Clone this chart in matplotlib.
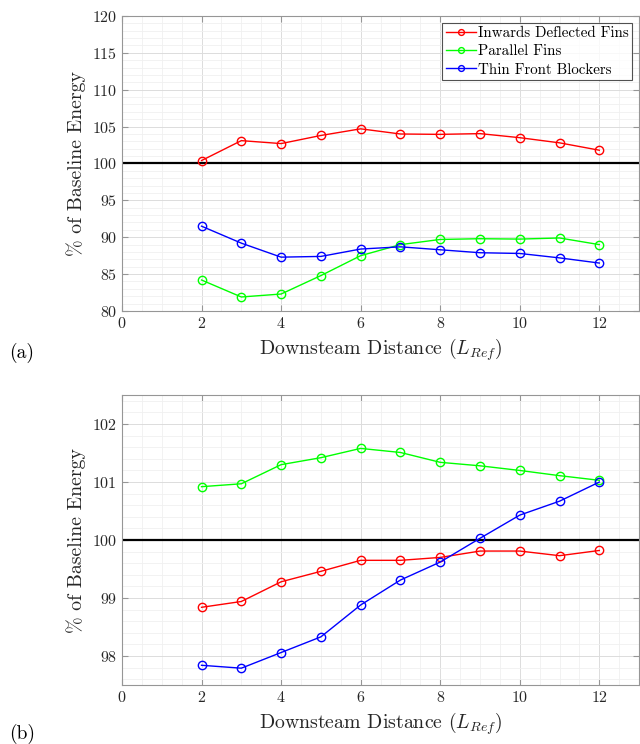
import matplotlib
matplotlib.use("Agg")
import matplotlib.pyplot as plt
from matplotlib.ticker import MultipleLocator

plt.rcParams['font.family'] = 'serif'
plt.rcParams['font.serif'] = ['cmr10']
plt.rcParams['mathtext.fontset'] = 'cm'
plt.rcParams['axes.formatter.use_mathtext'] = True

x = [2, 3, 4, 5, 6, 7, 8, 9, 10, 11, 12]
labels = ["Inwards Deflected Fins", "Parallel Fins", "Thin Front Blockers"]

a_red = [100.4, 103.1, 102.7, 103.8, 104.7, 104.0, 103.95, 104.05, 103.5, 102.8, 101.8]
a_green = [84.2, 81.9, 82.3, 84.8, 87.5, 89.0, 89.7, 89.8, 89.75, 89.9, 89.0]
a_blue = [91.5, 89.2, 87.3, 87.4, 88.4, 88.7, 88.3, 87.9, 87.8, 87.2, 86.5]

b_red = [98.84, 98.94, 99.28, 99.46, 99.65, 99.65, 99.70, 99.81, 99.81, 99.73, 99.82]
b_green = [100.92, 100.97, 101.30, 101.42, 101.58, 101.51, 101.34, 101.28, 101.20, 101.11, 101.03]
b_blue = [97.84, 97.79, 98.06, 98.33, 98.88, 99.31, 99.62, 100.03, 100.43, 100.67, 101.0]

colors = ['#ff0000', '#00ff00', '#0000ff']

fig = plt.figure(figsize=(6.4, 7.44), dpi=100)
ax1 = fig.add_axes([0.1906, 0.582, 0.808, 0.3965])
ax2 = fig.add_axes([0.1906, 0.0793, 0.808, 0.3897])

def style(ax, ylim, ymaj, ymin):
    ax.set_xlim(0, 13)
    ax.set_ylim(*ylim)
    ax.xaxis.set_major_locator(MultipleLocator(2))
    ax.xaxis.set_minor_locator(MultipleLocator(0.5))
    ax.yaxis.set_major_locator(MultipleLocator(ymaj))
    ax.yaxis.set_minor_locator(MultipleLocator(ymin))
    ax.grid(which='major', color='#dcdcdc', linewidth=0.7)
    ax.grid(which='minor', color='#f0f0f0', linewidth=0.6)
    ax.set_axisbelow(True)
    for s in ax.spines.values():
        s.set_color('#969696')
        s.set_linewidth(0.8)
    ax.tick_params(which='both', direction='in', top=True, right=True,
                   colors='#969696', labelcolor='#262626', labelsize=11.5)
    ax.tick_params(which='minor', length=0)
    ax.tick_params(which='major', length=4)
    ax.axhline(100, color='black', linewidth=1.6, zorder=2)
    ax.set_xlabel(r'Downsteam Distance ($L_{Ref}$)', fontsize=14.3, color='#262626')
    ax.set_ylabel('% of Baseline Energy', fontsize=14.3, color='#262626')

style(ax1, (80, 120), 5, 1)
style(ax2, (97.5, 102.5), 1, 0.2)

for ax, series in ((ax1, (a_red, a_green, a_blue)), (ax2, (b_red, b_green, b_blue))):
    for y, c, lab in zip(series, colors, labels):
        ax.plot(x, y, color=c, linewidth=1.0, marker='o', markersize=6,
                markerfacecolor='none', markeredgecolor=c, markeredgewidth=1.0,
                label=lab, zorder=3)

leg = ax1.legend(loc='upper right', fontsize=10.8, frameon=True, fancybox=False,
                 borderpad=0.25, handlelength=2.0, handletextpad=0.15,
                 labelspacing=0.3, borderaxespad=0.45, markerscale=0.7)
leg.get_frame().set_edgecolor('#262626')
leg.get_frame().set_linewidth(0.8)

fig.text(0.014, 0.526, '(a)', fontsize=14, ha='left', va='center')
fig.text(0.014, 0.014, '(b)', fontsize=14, ha='left', va='center')

fig.savefig('out.png', dpi=100)
